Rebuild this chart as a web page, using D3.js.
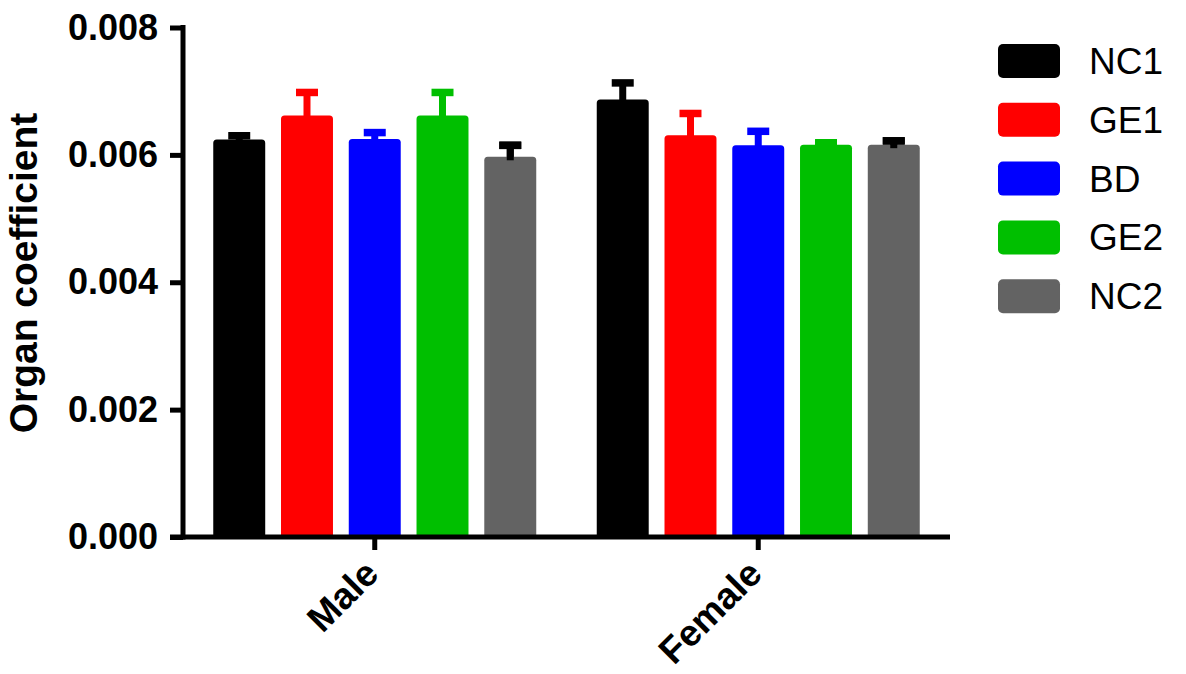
<!DOCTYPE html>
<html>
<head>
<meta charset="utf-8">
<script src="https://cdn.jsdelivr.net/npm/d3@7"></script>
<style>
  html, body { margin: 0; padding: 0; background: #fff; }
  svg { display: block; font-family: "Liberation Sans", Arial, Helvetica, sans-serif; }
</style>
</head>
<body>
<svg id="chart" width="1186" height="674"></svg>
<script>
// ---- data ----
const groups = ["Male", "Female"];
const seriesNames = ["NC1", "GE1", "BD", "GE2", "NC2"];
const seriesColors = ["#000000", "#ff0000", "#0000ff", "#00bf00", "#636363"];
const errorColors = ["#000000", "#ff0000", "#0000ff", "#00bf00", "#000000"];
// mean values per series, [Male, Female]
const meanNC1 = [0.00624, 0.00687];
const meanGE1 = [0.00662, 0.00631];
const meanBD  = [0.00625, 0.00615];
const meanGE2 = [0.00662, 0.00616];
const meanNC2 = [0.00597, 0.00616];
// standard error per series, [Male, Female]
const errNC1 = [0.00006, 0.00026];
const errGE1 = [0.00036, 0.00034];
const errBD  = [0.00010, 0.00022];
const errGE2 = [0.00036, 0.00003];
const errNC2 = [0.00018, 0.00006];
const yTicks = [0, 0.002, 0.004, 0.006, 0.008];
const yTitle = "Organ coefficient";

const means = [meanNC1, meanGE1, meanBD, meanGE2, meanNC2];
const errs = [errNC1, errGE1, errBD, errGE2, errNC2];
const rows = [];
seriesNames.forEach((s, si) => groups.forEach((g, gi) => {
  rows.push({ series: s, si, group: g, value: means[si][gi], err: errs[si][gi] });
}));

// ---- layout ----
const svg = d3.select("#chart");
const x0 = d3.scaleBand().domain(groups).range([183, 950]).paddingInner(0).paddingOuter(0);
const x1 = d3.scaleBand().domain(seriesNames).range([0, 323]).paddingInner(0.233).paddingOuter(0);
const y = d3.scaleLinear().domain([0, 0.008]).range([537, 27.5]);

const barX = d => x0(d.group) + x0.bandwidth() / 2 - 161.5 + x1(d.series);
const bw = x1.bandwidth();
const r = 3.5;

function barPath(d) {
  const xl = barX(d), xr = xl + bw, yt = y(d.value), yb = y(0);
  return `M${xl},${yb}V${yt + r}Q${xl},${yt} ${xl + r},${yt}H${xr - r}Q${xr},${yt} ${xr},${yt + r}V${yb}Z`;
}

function drawErr(g, d, c) {
  const cx = barX(d) + bw / 2;
  g.append("line").attr("x1", cx).attr("x2", cx)
    .attr("y1", y(d.value) + 3.5).attr("y2", y(d.value + d.err))
    .attr("stroke", c).attr("stroke-width", 7);
  g.append("line").attr("x1", cx - 11).attr("x2", cx + 11)
    .attr("y1", y(d.value + d.err)).attr("y2", y(d.value + d.err))
    .attr("stroke", c).attr("stroke-width", 7.5);
}

// error bars (upper only), behind bars
const eb = svg.append("g");
rows.forEach(d => drawErr(eb, d, errorColors[d.si]));

// bars
svg.append("g").selectAll("path").data(rows).join("path")
  .attr("d", barPath)
  .attr("fill", d => seriesColors[d.si]);

// NC2 error bars are black and show over the gray bar
const eb2 = svg.append("g");
rows.filter(d => d.si === 4).forEach(d => drawErr(eb2, d, "#000"));

// y axis
const yAxis = svg.append("g").attr("transform", "translate(183,0)")
  .call(d3.axisLeft(y).tickValues(yTicks).tickFormat(d3.format(".3f")).tickSize(13).tickPadding(12));
yAxis.select(".domain").attr("d", `M0,${y(0.008)}V${y(0)}`).attr("stroke", "#000").attr("stroke-width", 5).attr("stroke-linecap", "square");
yAxis.selectAll(".tick line").attr("stroke", "#000").attr("stroke-width", 5);
yAxis.selectAll(".tick text").attr("fill", "#000").attr("font-size", 36).attr("font-weight", "bold")
  .attr("font-family", "'Liberation Sans', Arial, sans-serif");

// x axis
const xAxis = svg.append("g").attr("transform", `translate(0,${y(0)})`)
  .call(d3.axisBottom(x0).tickSize(13).tickPadding(8));
xAxis.select(".domain").attr("d", "M170,0H950").attr("stroke", "#000").attr("stroke-width", 5);
xAxis.selectAll(".tick line").attr("stroke", "#000").attr("stroke-width", 5);
xAxis.selectAll(".tick text")
  .attr("fill", "#000").attr("font-size", 37).attr("font-weight", "bold")
  .attr("font-family", "'Liberation Sans', Arial, sans-serif")
  .attr("text-anchor", "end").attr("dy", null)
  .attr("transform", "translate(-9,24) rotate(-45)");

// y title
svg.append("text")
  .attr("transform", "translate(37,273) rotate(-90)")
  .attr("text-anchor", "middle")
  .attr("font-size", 39).attr("font-weight", "bold")
  .attr("fill", "#000")
  .text(yTitle);

// legend
const lg = svg.append("g");
seriesNames.forEach((s, i) => {
  const yy = 44 + i * 58.8;
  lg.append("rect").attr("x", 998).attr("y", yy).attr("width", 62).attr("height", 34)
    .attr("rx", 5).attr("fill", seriesColors[i]);
  lg.append("text").attr("x", 1089).attr("y", yy + 17).attr("dy", "0.35em")
    .attr("font-size", 37).attr("fill", "#000").text(s);
});
</script>
</body>
</html>
